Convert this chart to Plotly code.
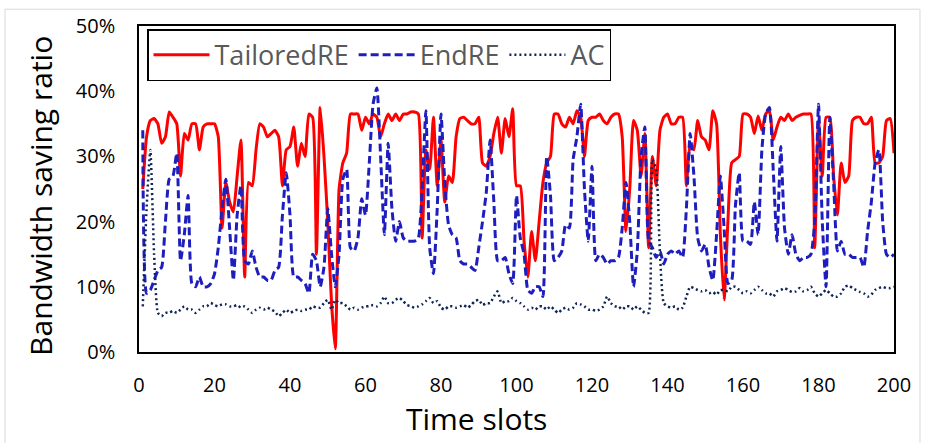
import plotly.graph_objects as go

# ---- data ----
time_slots = list(range(1, 201))

tailored_re = [
    25, 33, 35.5, 35.8, 35, 32, 33, 36.8, 36, 35,
    27, 33.5, 32.5, 35, 35, 31, 34.5, 35, 35, 35,
    33, 19, 26, 23, 21.5, 27, 32.5, 11.5, 26, 25.5,
    31, 35, 34.5, 33, 33.5, 34, 33, 25.5, 31, 31.5,
    34.5, 28.5, 32, 30, 36.5, 36, 15, 37.5, 30, 20,
    7.5, 0.5, 25, 29, 30.5, 36.5, 36.5, 36.5, 34, 36,
    35, 36.5, 36, 33, 35, 36.5, 35.5, 36.5, 35.5, 36.5,
    36.5, 36.8, 36.8, 36.5, 17.5, 31, 28, 36, 25.5, 32.5,
    23, 27, 26, 33, 35.8, 36, 35.5, 35, 35, 36,
    29, 28.5, 30, 33.5, 36, 30.5, 35.8, 33, 37.3, 25.5,
    25.5, 17, 11.5, 18.5, 14, 20, 26, 29, 30, 36.5,
    36.5, 35, 34.5, 36, 35, 37, 36, 30, 35.5, 36,
    36, 36.5, 35.5, 35, 36, 36.5, 36.5, 33, 18.5, 25,
    35.5, 34, 27, 33.5, 16, 30, 25.5, 34, 36, 36.5,
    35, 35, 36, 36, 25.5, 32, 31, 35.5, 33, 32.5,
    31, 37, 35, 18, 8, 20, 29, 29.5, 30, 36.5,
    36.5, 36, 33.5, 36.2, 34, 36.5, 37, 32.5, 34.5, 36,
    35.5, 36.5, 35.5, 36, 36.3, 36.5, 36.5, 36.5, 16, 35.5,
    27, 36, 36, 27, 21, 29, 26, 27, 35.5, 36,
    36, 35, 35, 36, 29, 29, 30, 35.5, 35.8, 30.5,
]

end_re = [
    34, 9, 9.5, 11, 12.5, 13, 20, 26.5, 27, 30.5,
    14, 18, 24, 10.5, 10, 11.5, 10, 10, 10.5, 12,
    16, 22, 26.5, 19, 11, 21, 25.5, 14, 13.5, 15.5,
    13, 11.5, 11.5, 11, 11, 12.5, 13, 21, 27.5, 21,
    11.5, 11.5, 11, 10.5, 9, 15, 14, 10, 13, 22,
    15, 10, 15, 26.5, 28, 16, 15.5, 17.5, 23.5, 21,
    29, 38, 40.5, 30, 18, 32, 22, 17, 20, 17.5,
    17, 17, 17, 17.5, 25, 37, 16, 12, 22, 36.5,
    26, 19.5, 18, 17.5, 14, 13.5, 13.5, 13, 12.5, 16,
    20, 24.5, 32.5, 23, 14, 14, 14.5, 12, 10.5, 24,
    17.5, 15, 9.5, 9, 10, 10, 8.5, 30, 24, 14,
    14.5, 15.5, 19.5, 19, 29.5, 33, 38, 25, 17, 28.5,
    14, 15, 14.5, 13.5, 14, 14, 14.5, 19, 26, 20,
    10, 15.5, 30, 34.5, 17, 16, 14.5, 15.5, 13.5, 15,
    15.5, 15, 15.5, 14.5, 22, 33.5, 27, 17.5, 15.5, 16.5,
    13, 11, 18, 27, 19, 10.5, 11, 22.5, 27.5, 17,
    17, 16.5, 23, 18, 31, 36.5, 37.5, 28, 17, 31.5,
    19, 15, 18, 15, 14, 14.5, 14.5, 15, 20, 38,
    20, 10, 36, 26, 15.5, 17, 15, 15, 14.5, 14.5,
    14.5, 13, 18.5, 23, 29, 31, 20, 15, 14.5, 15,
]

ac = [
    7, 22, 31, 15, 6, 5.5, 6, 6, 6.3, 6,
    6.5, 7, 6.5, 6.5, 6, 6.5, 7, 7, 7.5, 7.2,
    7, 7.3, 7.3, 7, 7, 7.2, 6.8, 7, 6.5, 6,
    6.5, 6.8, 6.5, 6.8, 6.5, 6.2, 5.5, 6, 6.5, 6,
    6.3, 6.5, 6.3, 6.5, 6.5, 7, 6.8, 6.8, 7.5, 8,
    6.5, 8, 7.5, 7.5, 7, 6.5, 6.8, 6.5, 6.8, 7,
    7, 7.2, 7, 7.5, 8.5, 7.5, 7.5, 8, 8.3, 7.8,
    7.2, 7, 6.8, 7, 7.3, 7.8, 8.3, 7.5, 7.8, 6.8,
    6.5, 7, 7, 6.8, 7, 7.2, 6.8, 7.2, 7.8, 8,
    7.2, 7.5, 7.5, 8.5, 9.3, 7.5, 7.8, 7.8, 8.3, 7.8,
    7.5, 7, 6.5, 6.8, 6.5, 7, 7, 6.5, 7, 6.5,
    6, 6.5, 6.8, 6.5, 6.8, 7.5, 7.3, 7, 6.5, 6.5,
    6.3, 6.5, 7, 8.5, 7.5, 7, 7, 6.5, 7, 7,
    6.5, 7, 6.5, 6, 6, 29.5, 28, 15, 7.5, 7,
    6.8, 7, 6.5, 6.8, 8.5, 10, 9.8, 9.5, 9.3, 9.5,
    9, 9.2, 8.8, 9.5, 9.5, 9.3, 10, 10, 9.5, 9,
    9.3, 9, 9.5, 10, 9.5, 9, 9, 8.5, 9.3, 9.5,
    9.8, 9.5, 9.2, 9.3, 9.8, 9.3, 9.5, 10, 9, 8.5,
    9, 9.5, 9, 8.5, 8.5, 9, 10, 10.2, 9.8, 9.5,
    9.2, 9, 8.5, 8.8, 9.5, 9.8, 10, 9.8, 9.8, 10,
]

x_ticks = [0, 20, 40, 60, 80, 100, 120, 140, 160, 180, 200]
y_ticks = [0, 10, 20, 30, 40, 50]
y_tick_labels = ["0%", "10%", "20%", "30%", "40%", "50%"]

FONT = "Open Sans, Noto Sans, sans-serif"

fig = go.Figure()
fig.add_trace(go.Scatter(
    x=time_slots, y=tailored_re, mode="lines", name="TailoredRE",
    line=dict(color="#FF0000", width=3, shape="spline", smoothing=0.5),
))
fig.add_trace(go.Scatter(
    x=time_slots, y=end_re, mode="lines", name="EndRE",
    line=dict(color="#1E1EBE", width=3, dash="8px,4px", shape="spline", smoothing=0.5),
))
fig.add_trace(go.Scatter(
    x=time_slots, y=ac, mode="lines", name="AC",
    line=dict(color="#0F2557", width=2.5, dash="2px,3px", shape="spline", smoothing=0.5),
))

fig.update_layout(
    width=925, height=443,
    margin=dict(l=139, r=31, t=22, b=91),
    paper_bgcolor="white", plot_bgcolor="white",
    font=dict(family=FONT, color="black"),
    showlegend=True,
    legend=dict(
        orientation="h", x=0.0106, y=0.99, xanchor="left", yanchor="top",
        bgcolor="white", bordercolor="black", borderwidth=1.5,
        font=dict(family=FONT, size=27, color="#595959"),
        itemwidth=56,
    ),
    xaxis=dict(
        range=[0, 200], tickmode="array", tickvals=x_ticks,
        showline=True, linecolor="black", linewidth=1.5, mirror=True,
        ticks="", showgrid=False, zeroline=False,
        tickfont=dict(family=FONT, size=20, color="black"),
        ticklabelstandoff=14,
    ),
    yaxis=dict(
        range=[0, 50], tickmode="array", tickvals=y_ticks, ticktext=y_tick_labels,
        showline=True, linecolor="black", linewidth=1.5, mirror=True,
        ticks="", showgrid=False, zeroline=False,
        tickfont=dict(family=FONT, size=20, color="black"),
        ticklabelstandoff=18,
    ),
    annotations=[
        dict(text="Bandwidth saving ratio", xref="paper", yref="paper",
             x=-0.1298, y=0.4788, xanchor="center", yanchor="middle",
             textangle=-90, showarrow=False,
             font=dict(family=FONT, size=30, color="black")),
        dict(text="Time slots", xref="paper", yref="paper",
             x=0.447, y=-0.203, xanchor="center", yanchor="middle",
             showarrow=False,
             font=dict(family=FONT, size=30, color="black")),
    ],
    shapes=[
        dict(type="rect", xref="paper", yref="paper",
             x0=-0.1775, x1=1.0344, y0=-0.30, y1=1.0515,
             line=dict(color="#D9D9D9", width=1), layer="below"),
    ],
)

fig.write_html(
    "out.html",
    config={"displayModeBar": False},
    post_script="document.body.style.margin='0px';document.body.style.overflow='hidden';",
)
